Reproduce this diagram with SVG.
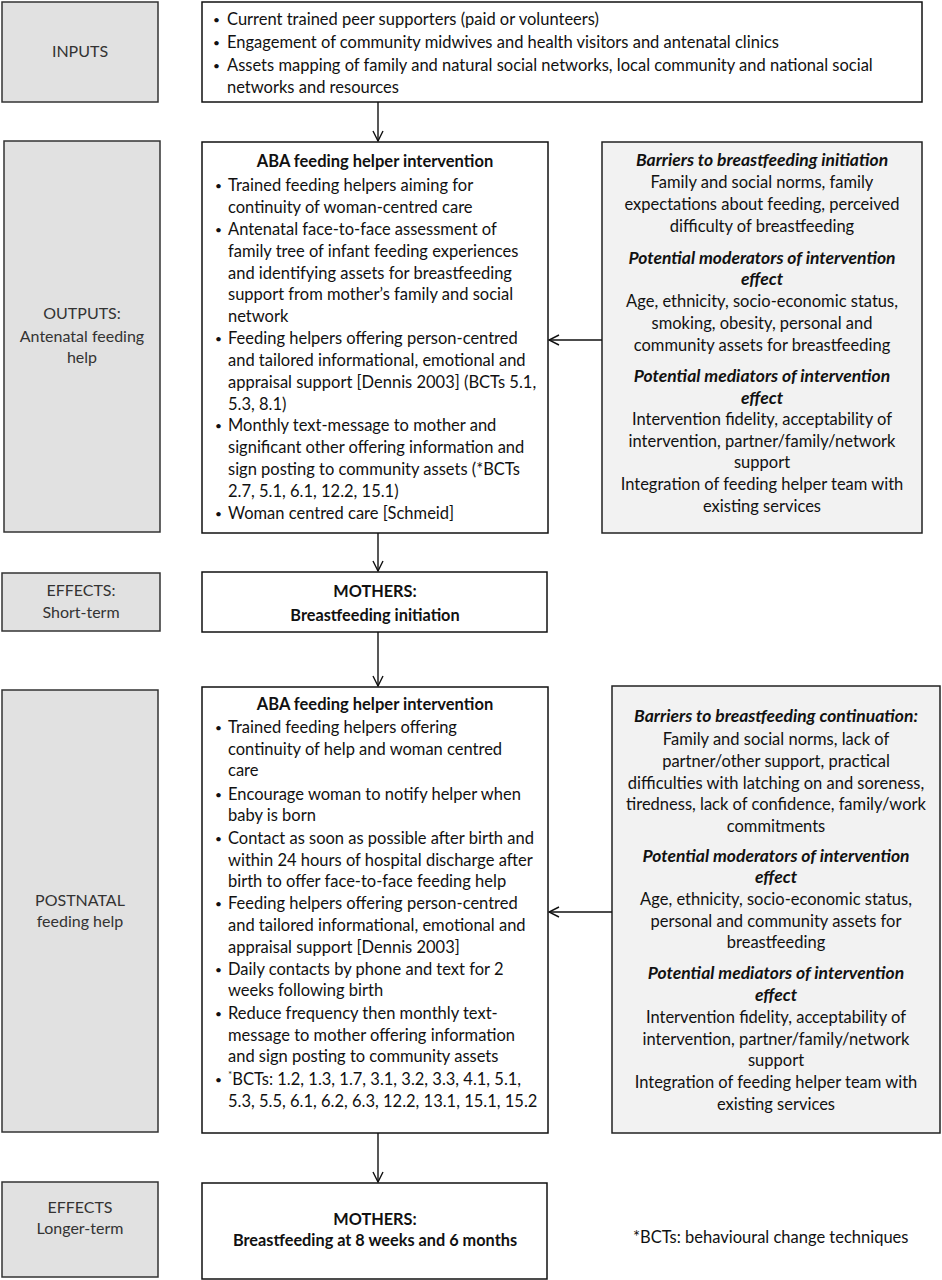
<svg xmlns="http://www.w3.org/2000/svg" width="942" height="1280" viewBox="0 0 942 1280">
<defs>
<marker id="ah" viewBox="0 0 12 12" refX="11" refY="6" markerWidth="12" markerHeight="12" markerUnits="userSpaceOnUse" orient="auto">
<path d="M1,1 L11,6 L1,11" fill="none" stroke="#111" stroke-width="1.4"/>
</marker>
</defs>
<style>
text{font-family:Lato,"Open Sans","Liberation Sans",sans-serif;font-size:16.5px;fill:#111}
.lab{fill:#e1e1e1;stroke:#333;stroke-width:1.5}
.box{fill:#fff;stroke:#111;stroke-width:1.5}
.side{fill:#f2f2f2;stroke:#222;stroke-width:1.5}
.lt{text-anchor:middle;fill:#333;font-size:16px}
.c{text-anchor:middle}
.b{font-weight:bold}
.bi{font-weight:bold;font-style:italic;font-size:17.5px}
.m{font-weight:bold;font-size:16.3px;text-anchor:middle}
.d{font-size:12px}
.con line{stroke:#111;stroke-width:1.4;marker-end:url(#ah)}
</style>
<rect width="942" height="1280" fill="#fff"/>

<g id="inputs-label"><rect class="lab" x="2" y="2" width="156" height="100"/><text class="lt" x="80" y="57">INPUTS</text></g>
<g id="inputs"><rect class="box" x="202" y="2" width="720" height="100"/>
<text class="d" x="213" y="24">•</text><text x="227" y="25">Current trained peer supporters (paid or volunteers)</text>
<text class="d" x="213" y="47">•</text><text x="227" y="48">Engagement of community midwives and health visitors and antenatal clinics</text>
<text class="d" x="213" y="70">•</text><text x="227" y="71">Assets mapping of family and natural social networks, local community and national social</text>
<text x="227" y="93">networks and resources</text>
</g>

<g id="outputs-label"><rect class="lab" x="4" y="141" width="156" height="391"/>
<text class="lt" x="82" y="319">OUTPUTS:</text><text class="lt" x="82" y="342">Antenatal feeding</text><text class="lt" x="82" y="363">help</text></g>

<g id="antenatal"><rect class="box" x="202" y="142" width="346" height="391"/>
<text class="c b" x="375" y="167">ABA feeding helper intervention</text>
<text class="d" x="215" y="190">•</text><text x="228" y="191">Trained feeding helpers aiming for</text>
<text x="228" y="213">continuity of woman-centred care</text>
<text class="d" x="215" y="234">•</text><text x="228" y="235">Antenatal face-to-face assessment of</text>
<text x="228" y="257">family tree of infant feeding experiences</text>
<text x="228" y="279">and identifying assets for breastfeeding</text>
<text x="228" y="300">support from mother’s family and social</text>
<text x="228" y="322">network</text>
<text class="d" x="215" y="343">•</text><text x="228" y="344">Feeding helpers offering person-centred</text>
<text x="228" y="366">and tailored informational, emotional and</text>
<text x="228" y="388">appraisal support [Dennis 2003] (BCTs 5.1,</text>
<text x="228" y="410">5.3, 8.1)</text>
<text class="d" x="215" y="430">•</text><text x="228" y="431">Monthly text-message to mother and</text>
<text x="228" y="453">significant other offering information and</text>
<text x="228" y="475">sign posting to community assets (*BCTs</text>
<text x="228" y="497">2.7, 5.1, 6.1, 12.2, 15.1)</text>
<text class="d" x="215" y="518">•</text><text x="228" y="519">Woman centred care [Schmeid]</text>
</g>

<g id="antenatal-factors"><rect class="side" x="602" y="142" width="320" height="391"/>
<text class="c bi" x="762" y="166">Barriers to breastfeeding initiation</text>
<text class="c" x="762" y="188">Family and social norms, family</text>
<text class="c" x="762" y="210">expectations about feeding, perceived</text>
<text class="c" x="762" y="232">difficulty of breastfeeding</text>
<text class="c bi" x="762" y="264">Potential moderators of intervention</text>
<text class="c bi" x="762" y="285">effect</text>
<text class="c" x="762" y="307">Age, ethnicity, socio-economic status,</text>
<text class="c" x="762" y="329">smoking, obesity, personal and</text>
<text class="c" x="762" y="351">community assets for breastfeeding</text>
<text class="c bi" x="762" y="382">Potential mediators of intervention</text>
<text class="c bi" x="762" y="404">effect</text>
<text class="c" x="762" y="425">Intervention fidelity, acceptability of</text>
<text class="c" x="762" y="447">intervention, partner/family/network</text>
<text class="c" x="762" y="468">support</text>
<text class="c" x="762" y="490">Integration of feeding helper team with</text>
<text class="c" x="762" y="512">existing services</text>
</g>

<g id="short-label"><rect class="lab" x="2" y="573" width="158" height="58"/>
<text class="lt" x="81" y="596">EFFECTS:</text><text class="lt" x="81" y="618">Short-term</text></g>
<g id="short-effects"><rect class="box" x="202" y="572" width="345" height="60"/>
<text class="m" x="375" y="597">MOTHERS:</text><text class="m" x="375" y="621">Breastfeeding initiation</text></g>

<g id="postnatal-label"><rect class="lab" x="2" y="690" width="156" height="442"/>
<text class="lt" x="80" y="906">POSTNATAL</text><text class="lt" x="80" y="927">feeding help</text></g>

<g id="postnatal"><rect class="box" x="202" y="687" width="346" height="446"/>
<text class="c b" x="375" y="710">ABA feeding helper intervention</text>
<text class="d" x="215" y="732">•</text><text x="228" y="733">Trained feeding helpers offering</text>
<text x="228" y="755">continuity of help and woman centred</text>
<text x="228" y="776">care</text>
<text class="d" x="215" y="799">•</text><text x="228" y="800">Encourage woman to notify helper when</text>
<text x="228" y="821">baby is born</text>
<text class="d" x="215" y="843">•</text><text x="228" y="844">Contact as soon as possible after birth and</text>
<text x="228" y="866">within 24 hours of hospital discharge after</text>
<text x="228" y="887">birth to offer face-to-face feeding help</text>
<text class="d" x="215" y="908">•</text><text x="228" y="909">Feeding helpers offering person-centred</text>
<text x="228" y="931">and tailored informational, emotional and</text>
<text x="228" y="953">appraisal support [Dennis 2003]</text>
<text class="d" x="215" y="974">•</text><text x="228" y="975">Daily contacts by phone and text for 2</text>
<text x="228" y="996">weeks following birth</text>
<text class="d" x="215" y="1018">•</text><text x="228" y="1019">Reduce frequency then monthly text-</text>
<text x="228" y="1041">message to mother offering information</text>
<text x="228" y="1062">and sign posting to community assets</text>
<text class="d" x="215" y="1084">•</text><text x="228" y="1085"><tspan font-size="10" dy="-7">*</tspan><tspan dy="7">BCTs: 1.2, 1.3, 1.7, 3.1, 3.2, 3.3, 4.1, 5.1,</tspan></text>
<text x="228" y="1107">5.3, 5.5, 6.1, 6.2, 6.3, 12.2, 13.1, 15.1, 15.2</text>
</g>

<g id="postnatal-factors"><rect class="side" x="612" y="686" width="328" height="447"/>
<text class="c bi" x="776" y="722">Barriers to breastfeeding continuation:</text>
<text class="c" x="776" y="745">Family and social norms, lack of</text>
<text class="c" x="776" y="767">partner/other support, practical</text>
<text class="c" x="776" y="789">difficulties with latching on and soreness,</text>
<text class="c" x="776" y="810">tiredness, lack of confidence, family/work</text>
<text class="c" x="776" y="832">commitments</text>
<text class="c bi" x="776" y="862">Potential moderators of intervention</text>
<text class="c bi" x="776" y="883">effect</text>
<text class="c" x="776" y="905">Age, ethnicity, socio-economic status,</text>
<text class="c" x="776" y="927">personal and community assets for</text>
<text class="c" x="776" y="948">breastfeeding</text>
<text class="c bi" x="776" y="979">Potential mediators of intervention</text>
<text class="c bi" x="776" y="1001">effect</text>
<text class="c" x="776" y="1023">Intervention fidelity, acceptability of</text>
<text class="c" x="776" y="1045">intervention, partner/family/network</text>
<text class="c" x="776" y="1066">support</text>
<text class="c" x="776" y="1088">Integration of feeding helper team with</text>
<text class="c" x="776" y="1110">existing services</text>
</g>

<g id="long-label"><rect class="lab" x="2" y="1182" width="156" height="95"/>
<text class="lt" x="80" y="1213">EFFECTS</text>
<text class="lt" x="80" y="1234">Longer-term</text>
</g>

<g id="long-effects"><rect class="box" x="202" y="1183" width="345" height="96"/>
<text class="m" x="375" y="1225">MOTHERS:</text>
<text class="m" x="375" y="1246">Breastfeeding at 8 weeks and 6 months</text>
</g>

<g id="footnote"><text x="633" y="1243">*BCTs: behavioural change techniques</text></g>

<g id="connectors" class="con">
<line x1="378" y1="102" x2="378" y2="141"/>
<line x1="602" y1="340" x2="549" y2="340"/>
<line x1="378" y1="533" x2="378" y2="571"/>
<line x1="378" y1="632" x2="378" y2="686"/>
<line x1="612" y1="912" x2="549" y2="912"/>
<line x1="378" y1="1133" x2="378" y2="1182"/>
</g>
</svg>
